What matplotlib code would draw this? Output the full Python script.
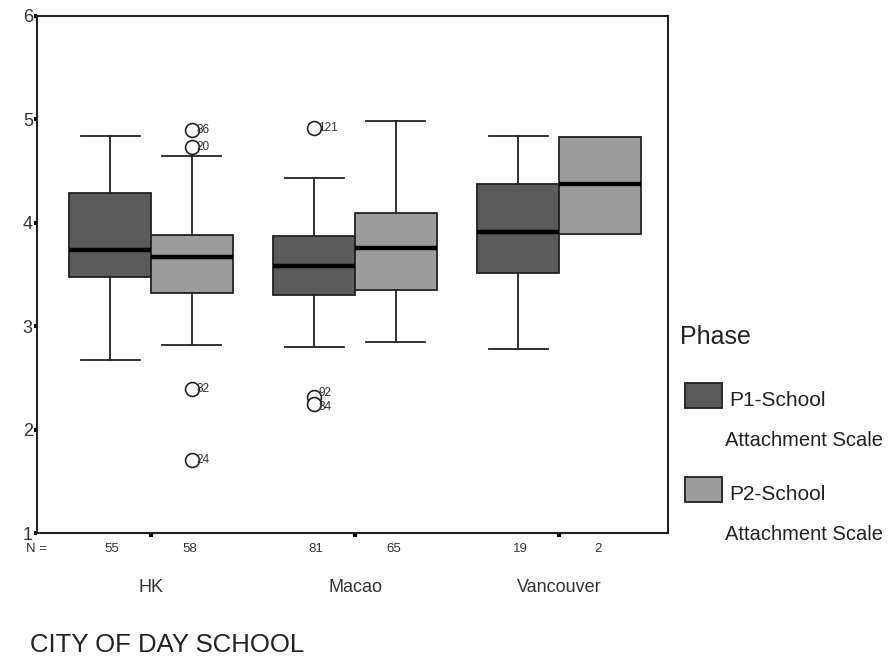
import numpy as np
import matplotlib as mpl
mpl.use('Agg')
from matplotlib import pyplot as plt
from matplotlib.patches import Rectangle

plt.rcParams['font.family'] = ['Liberation Sans', 'DejaVu Sans']

#------------------- Data ----------------------
cities = ['HK', 'Macao', 'Vancouver']
phases = ['P1-School\nAttachment Scale', 'P2-School\nAttachment Scale']
n_counts = [[55, 58], [81, 65], [19, 2]]

# per city: [P1, P2]
q1 = [[3.48, 3.32], [3.30, 3.35], [3.51, 3.89]]
med = [[3.74, 3.67], [3.58, 3.76], [3.91, 4.38]]
q3 = [[4.29, 3.88], [3.87, 4.09], [4.38, 4.83]]
whis_lo = [[2.67, 2.82], [2.80, 2.85], [2.78, 3.89]]
whis_hi = [[4.84, 4.65], [4.43, 4.98], [4.84, 4.83]]

# outliers: (city index, phase index, value, case label)
out_city = [0, 0, 0, 0, 1, 1, 1]
out_phase = [1, 1, 1, 1, 0, 0, 0]
out_value = [4.90, 4.73, 2.39, 1.71, 4.92, 2.32, 2.25]
out_label = ['86', '20', '82', '24', '121', '92', '84']
lab_dy = [0, 0, 0, 0, 0, 2.5, -2.5]   # small nudge so the Macao pair can be read

box_colors = ['#5b5b5b', '#9c9c9c']

#------------------- Plot ----------------------
fig = plt.figure(figsize=(8.88, 6.59), dpi=100)
ax = fig.add_axes([37/888, 1-533/659, (668-37)/888, (533-16)/659])

offs = [-0.2, 0.2]
for c in range(3):
    for p in range(2):
        st = {'q1': q1[c][p], 'med': med[c][p], 'q3': q3[c][p],
              'whislo': whis_lo[c][p], 'whishi': whis_hi[c][p], 'fliers': []}
        caps = whis_lo[c][p] != q1[c][p]
        ax.bxp([st], positions=[c + offs[p]], widths=0.4, capwidths=0.29,
               patch_artist=True, showcaps=caps, showfliers=False,
               boxprops=dict(facecolor=box_colors[p], edgecolor='#222222', linewidth=1.3),
               medianprops=dict(color='black', linewidth=3.2),
               whiskerprops=dict(color='#222222', linewidth=1.3),
               capprops=dict(color='#222222', linewidth=1.3),
               manage_ticks=False)

for c, p, v, lab, dy in zip(out_city, out_phase, out_value, out_label, lab_dy):
    x = c + offs[p]
    ax.plot(x, v, 'o', markersize=10, markerfacecolor='white',
            markeredgecolor='#222222', markeredgewidth=1.2)
    ax.annotate(lab, (x, v), xytext=(3, dy), textcoords='offset points',
                va='center', ha='left', fontsize=8.5, color='#333333')

ax.set_xlim(-0.559, 2.534)
ax.set_ylim(1, 6)
ax.set_yticks([1, 2, 3, 4, 5, 6])
ax.set_yticklabels(['1', '2', '3', '4', '5', '6'], fontsize=13, color='#333333')
ax.set_xticks([0, 1, 2])
ax.set_xticklabels(cities, fontsize=13, color='#333333')
ax.tick_params(axis='x', direction='out', length=3, width=3, pad=30)
ax.tick_params(axis='y', direction='out', length=2, width=3, pad=1)
for s in ax.spines.values():
    s.set_linewidth(1.5)
    s.set_color('#222222')

# N = counts row under the axis
trans = ax.get_xaxis_transform()
ax.text(-0.559, -0.03, 'N =', transform=trans, ha='center', va='center',
        fontsize=9.5, color='#333333')
for c in range(3):
    for p in range(2):
        ax.text(c + offs[p] * 0.95, -0.03, str(n_counts[c][p]), transform=trans,
                ha='center', va='center', fontsize=9.5, color='#333333')

fig.text(30/888, 1-645/659, 'CITY OF DAY SCHOOL', ha='left', va='center',
         fontsize=18.5, color='#222222')

# legend
fig.text(680/888, 1-337/659, 'Phase', ha='left', va='center', fontsize=18, color='#222222')
for p in range(2):
    y0 = [383, 477][p]
    fig.add_artist(Rectangle((685/888, 1-(y0+25)/659), 37/888, 25/659,
                             transform=fig.transFigure, facecolor=box_colors[p],
                             edgecolor='#222222', linewidth=1.3))
    first, second = phases[p].split('\n')
    fig.text(729/888, 1-(y0+17)/659, first, ha='left', va='center', fontsize=15, color='#222222')
    fig.text(725/888, 1-(y0+57)/659, second, ha='left', va='center', fontsize=14.5, color='#222222')

plt.savefig('out.png', dpi=100)
